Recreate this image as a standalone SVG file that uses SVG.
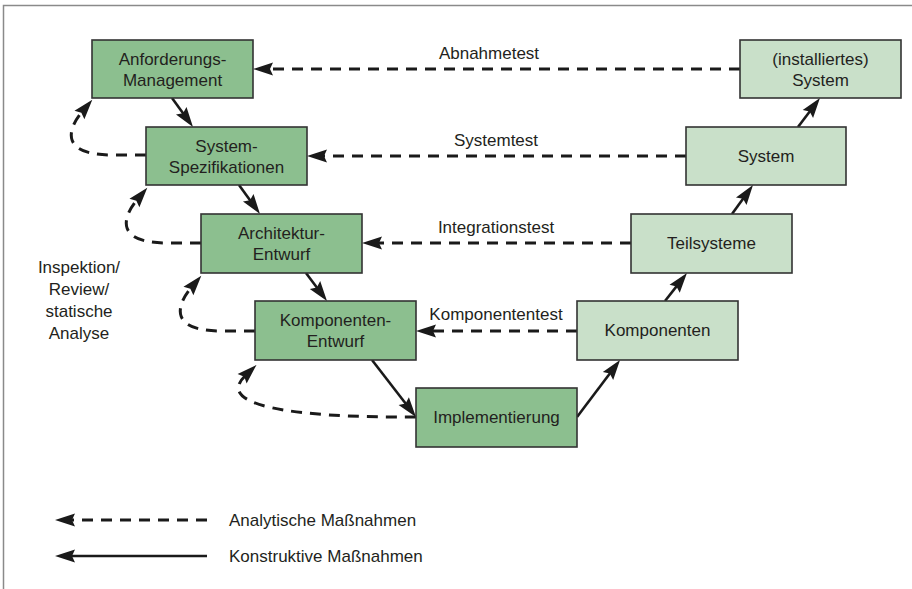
<svg xmlns="http://www.w3.org/2000/svg" width="912" height="589" viewBox="0 0 912 589">
<style>
text{font-family:"Liberation Sans",Arial,sans-serif;font-size:17px;fill:#231f20}
.c{text-anchor:middle}
.dk{fill:#8cbf8f;stroke:#333;stroke-width:1.6}
.lt{fill:#c9e0c9;stroke:#333;stroke-width:1.6}
.sol{fill:none;stroke:#1a1a1a;stroke-width:2.6;marker-end:url(#ah)}
.dash{fill:none;stroke:#1a1a1a;stroke-width:3;stroke-dasharray:11 8;marker-end:url(#ah)}
</style>
<defs>
<marker id="ah" markerUnits="userSpaceOnUse" markerWidth="22" markerHeight="14" refX="4" refY="6" orient="auto" overflow="visible">
<path d="M0,-0.5 L20,6 L0,12.5 L3,6 Z" fill="#1a1a1a"/>
</marker>
</defs>
<rect width="912" height="589" fill="#fff"/>
<path d="M3.5,589 V5.5 H912" fill="none" stroke="#8a8a8a" stroke-width="1.5"/>

<g id="connectors">
<path class="sol" d="M172,98 L183.6,114"/>
<path class="sol" d="M239,185 L250.6,201"/>
<path class="sol" d="M306,273 L317.4,288.2"/>
<path class="sol" d="M372,360 L406.2,404.3"/>
<path class="sol" d="M577,417 L610.4,372.8"/>
<path class="sol" d="M665,301 L677.1,285.6"/>
<path class="sol" d="M732,214 L743.6,198"/>
<path class="sol" d="M798,127 L810.3,110.8"/>
<path class="dash" d="M740,69 H269"/>
<path class="dash" d="M686,156 H323"/>
<path class="dash" d="M631,243 H378"/>
<path class="dash" d="M577,331 H432"/>
<path class="dash" d="M146,155 L112,155 C62,155 66,131 82,112"/>
<path class="dash" d="M201,243 L167,243 C117,243 121,219 137,200"/>
<path class="dash" d="M255,331 L221,331 C171,331 175,307 191,288"/>
<path class="dash" d="M416,417 C290,418 215,405 245,376"/>
<text class="c" x="489" y="59">Abnahmetest</text>
<text class="c" x="496" y="146">Systemtest</text>
<text class="c" x="496" y="233">Integrationstest</text>
<text class="c" x="496" y="320">Komponententest</text>
</g>

<g id="n-anforderung"><rect class="dk" x="92" y="40" width="161" height="58"/><text class="c" x="172.5" y="65">Anforderungs-</text><text class="c" x="172.5" y="86">Management</text></g>
<g id="n-sysspez"><rect class="dk" x="146" y="127" width="161" height="58"/><text class="c" x="226.5" y="152">System-</text><text class="c" x="226.5" y="173">Spezifikationen</text></g>
<g id="n-arch"><rect class="dk" x="201" y="214" width="161" height="59"/><text class="c" x="281.5" y="239">Architektur-</text><text class="c" x="281.5" y="260">Entwurf</text></g>
<g id="n-kompentwurf"><rect class="dk" x="255" y="301" width="161" height="59"/><text class="c" x="335.5" y="326">Komponenten-</text><text class="c" x="335.5" y="347">Entwurf</text></g>
<g id="n-impl"><rect class="dk" x="416" y="388" width="161" height="59"/><text class="c" x="496.5" y="423">Implementierung</text></g>
<g id="n-komp"><rect class="lt" x="577" y="301" width="161" height="59"/><text class="c" x="657.5" y="336">Komponenten</text></g>
<g id="n-teil"><rect class="lt" x="631" y="214" width="161" height="59"/><text class="c" x="711.5" y="249">Teilsysteme</text></g>
<g id="n-system"><rect class="lt" x="686" y="127" width="160" height="58"/><text class="c" x="766" y="162">System</text></g>
<g id="n-inst"><rect class="lt" x="740" y="40" width="161" height="58"/><text class="c" x="820.5" y="65">(installiertes)</text><text class="c" x="820.5" y="86">System</text></g>

<g id="review-label">
<text class="c" x="79" y="273">Inspektion/</text>
<text class="c" x="79" y="295">Review/</text>
<text class="c" x="79" y="317">statische</text>
<text class="c" x="79" y="339">Analyse</text>
</g>

<g id="legend">
<path class="dash" d="M207,520 H71"/>
<path class="sol" d="M207,556 H71"/>
<text x="229" y="526">Analytische Maßnahmen</text>
<text x="229" y="562">Konstruktive Maßnahmen</text>
</g>
</svg>
